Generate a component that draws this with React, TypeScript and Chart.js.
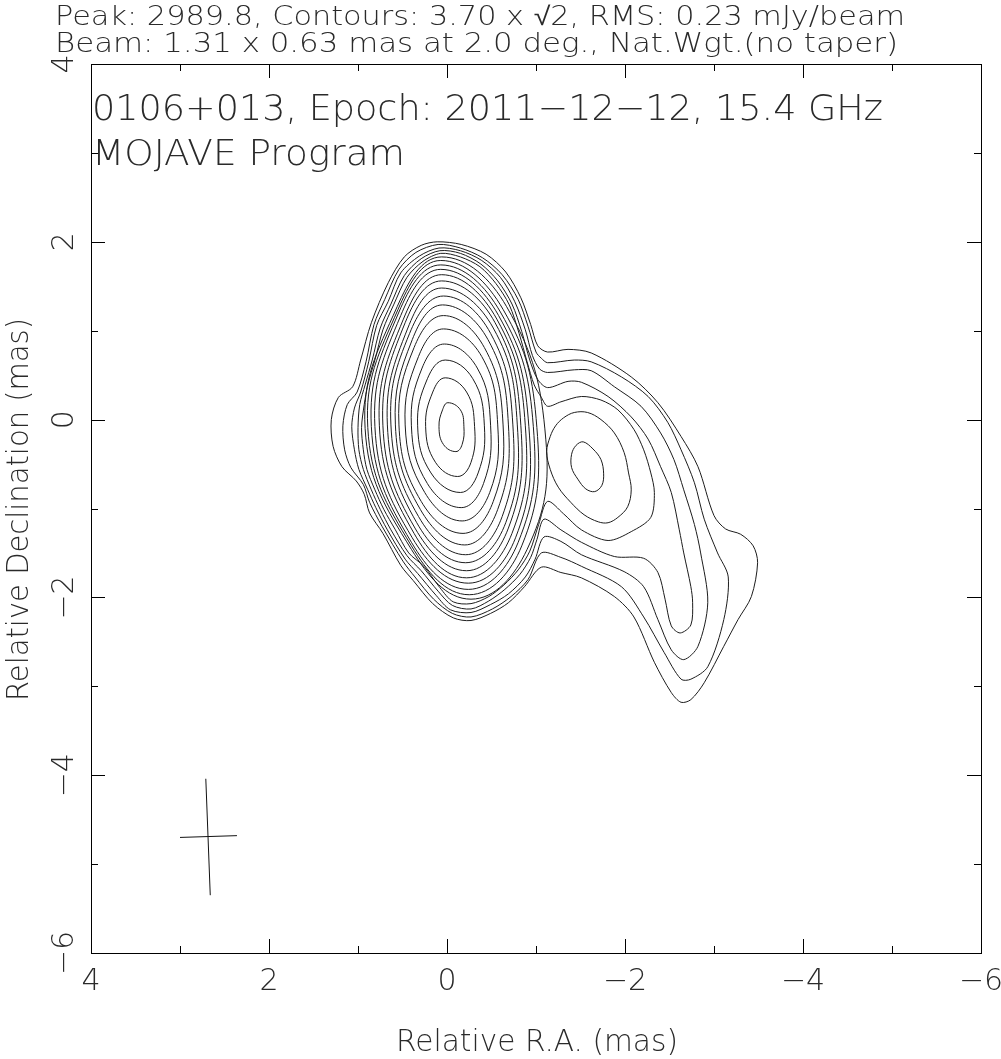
import React, { useEffect, useRef } from "react";
import { Chart, registerables } from "chart.js";

Chart.register(...registerables);

type Pt = [number, number];

// ---------- texts ----------
const headerLine1 = "Peak: 2989.8, Contours: 3.70 x √2, RMS: 0.23 mJy/beam";
const headerLine2 = "Beam: 1.31 x 0.63 mas at 2.0 deg., Nat.Wgt.(no taper)";
const titleLine1 = "0106+013, Epoch: 2011−12−12, 15.4 GHz";
const titleLine2 = "MOJAVE Program";
const xAxisTitle = "Relative R.A. (mas)";
const yAxisTitle = "Relative Declination (mas)";

// ---------- axes ----------
const axisMin = -6;
const axisMax = 4;
const majorTicks = [4, 2, 0, -2, -4, -6];
const minorTicks = [3, 1, -1, -3, -5];

// ---------- contours (RA mas, Dec mas), lowest level first ----------
const contour01: Pt[] = [[0.11,2.00],[-0.16,1.97],[-0.44,1.86],[-0.66,1.66],[-0.83,1.37],[-0.94,1.07],[-1.02,0.83],[-1.13,0.76],[-1.36,0.79],[-1.62,0.75],[-2.07,0.48],[-2.37,0.19],[-2.63,-0.19],[-2.82,-0.53],[-3.00,-1.08],[-3.13,-1.23],[-3.30,-1.29],[-3.44,-1.42],[-3.49,-1.61],[-3.42,-1.99],[-3.27,-2.25],[-3.11,-2.55],[-2.89,-2.96],[-2.74,-3.15],[-2.63,-3.18],[-2.52,-3.07],[-2.33,-2.73],[-2.10,-2.22],[-1.88,-1.99],[-1.51,-1.78],[-1.28,-1.72],[-1.06,-1.66],[-0.87,-1.88],[-0.69,-2.06],[-0.49,-2.18],[-0.27,-2.26],[-0.07,-2.23],[0.16,-2.07],[0.38,-1.81],[0.52,-1.64],[0.72,-1.28],[0.87,-1.05],[0.93,-0.84],[1.02,-0.69],[1.18,-0.53],[1.28,-0.30],[1.30,0.00],[1.22,0.25],[1.06,0.37],[0.97,0.67],[0.85,1.09],[0.66,1.54],[0.48,1.83],[0.29,1.96]];
const contour02: Pt[] = [[0.10,1.97],[-0.15,1.93],[-0.40,1.82],[-0.62,1.63],[-0.80,1.35],[-0.91,1.05],[-1.00,0.76],[-1.06,0.69],[-1.13,0.64],[-1.43,0.67],[-1.62,0.65],[-1.96,0.48],[-2.26,0.26],[-2.48,-0.03],[-2.63,-0.34],[-2.78,-0.71],[-2.89,-1.12],[-3.04,-1.50],[-3.16,-1.77],[-3.11,-2.25],[-2.93,-2.78],[-2.74,-2.92],[-2.63,-2.92],[-2.44,-2.62],[-2.21,-2.22],[-1.96,-1.88],[-1.51,-1.65],[-1.28,-1.55],[-1.06,-1.50],[-0.91,-1.80],[-0.72,-1.99],[-0.51,-2.13],[-0.27,-2.22],[-0.06,-2.18],[0.15,-2.02],[0.36,-1.77],[0.49,-1.60],[0.73,-1.20],[0.87,-0.93],[0.94,-0.73],[1.08,-0.54],[1.15,-0.34],[1.17,-0.07],[1.12,0.17],[1.01,0.31],[0.91,0.65],[0.82,1.07],[0.70,1.35],[0.54,1.69],[0.35,1.88]];
const contour03: Pt[] = [[0.09,1.93],[-0.15,1.90],[-0.39,1.79],[-0.60,1.60],[-0.76,1.33],[-0.88,1.01],[-0.96,0.72],[-1.04,0.57],[-1.13,0.53],[-1.43,0.56],[-1.62,0.55],[-1.88,0.37],[-2.18,0.15],[-2.40,-0.15],[-2.55,-0.45],[-2.66,-0.79],[-2.78,-1.18],[-2.85,-1.50],[-2.93,-2.06],[-2.82,-2.55],[-2.66,-2.70],[-2.52,-2.59],[-2.37,-2.25],[-2.21,-1.88],[-1.99,-1.71],[-1.51,-1.52],[-1.28,-1.37],[-1.09,-1.32],[-0.99,-1.57],[-0.88,-1.77],[-0.69,-1.96],[-0.49,-2.08],[-0.27,-2.17],[-0.04,-2.14],[0.12,-1.98],[0.33,-1.73],[0.47,-1.57],[0.67,-1.24],[0.80,-0.99],[0.89,-0.79],[0.99,-0.56],[1.04,-0.34],[1.07,-0.08],[1.04,0.13],[0.97,0.31],[0.88,0.65],[0.79,1.06],[0.66,1.33],[0.52,1.65],[0.31,1.84]];
const contour04: Pt[] = [[0.08,1.90],[-0.15,1.87],[-0.38,1.75],[-0.57,1.56],[-0.73,1.30],[-0.84,0.99],[-0.93,0.67],[-1.02,0.45],[-1.13,0.36],[-1.36,0.43],[-1.51,0.42],[-1.81,0.26],[-2.07,0.03],[-2.26,-0.22],[-2.40,-0.53],[-2.52,-0.82],[-2.61,-1.24],[-2.66,-1.50],[-2.74,-1.88],[-2.76,-2.06],[-2.74,-2.31],[-2.62,-2.40],[-2.52,-2.32],[-2.45,-2.02],[-2.37,-1.72],[-2.21,-1.56],[-1.88,-1.54],[-1.51,-1.38],[-1.28,-1.24],[-1.09,-1.12],[-1.01,-1.35],[-0.94,-1.55],[-0.82,-1.74],[-0.65,-1.91],[-0.47,-2.04],[-0.27,-2.13],[-0.06,-2.09],[0.10,-1.93],[0.29,-1.70],[0.45,-1.53],[0.63,-1.24],[0.75,-1.01],[0.85,-0.79],[0.94,-0.56],[0.99,-0.34],[1.00,-0.09],[0.98,0.17],[0.92,0.39],[0.84,0.67],[0.75,1.03],[0.63,1.30],[0.48,1.62],[0.29,1.81]];
const contour05: Pt[] = [[0.07,1.87],[-0.15,1.83],[-0.37,1.72],[-0.55,1.53],[-0.70,1.29],[-0.81,0.97],[-0.90,0.65],[-0.98,0.39],[-1.06,0.25],[-1.13,0.15],[-1.28,0.20],[-1.51,0.26],[-1.73,0.22],[-1.92,0.11],[-2.10,-0.11],[-2.21,-0.34],[-2.29,-0.60],[-2.33,-0.82],[-2.29,-1.10],[-2.07,-1.26],[-1.81,-1.36],[-1.51,-1.24],[-1.31,-1.06],[-1.13,-0.92],[-1.03,-1.18],[-0.93,-1.48],[-0.80,-1.69],[-0.64,-1.86],[-0.47,-1.99],[-0.27,-2.07],[-0.07,-2.05],[0.08,-1.89],[0.26,-1.65],[0.43,-1.50],[0.58,-1.24],[0.71,-1.01],[0.81,-0.79],[0.90,-0.56],[0.94,-0.34],[0.96,-0.09],[0.93,0.17],[0.89,0.39],[0.81,0.67],[0.72,1.01],[0.60,1.29],[0.45,1.60],[0.27,1.78]];
const contour06: Pt[] = [[0.06,1.83],[-0.67,1.27],[-1.11,-0.22],[-0.90,-1.46],[-0.27,-2.02],[0.40,-1.46],[0.92,-0.10],[0.56,1.27]];
const contour07: Pt[] = [[0.07,1.79],[-0.63,1.24],[-1.01,-0.09],[-0.84,-1.42],[-0.25,-1.97],[0.40,-1.42],[0.89,-0.09],[0.55,1.24]];
const contour08: Pt[] = [[0.07,1.74],[-0.60,1.21],[-0.97,-0.08],[-0.80,-1.38],[-0.24,-1.91],[0.40,-1.38],[0.85,-0.08],[0.54,1.21]];
const contour09: Pt[] = [[0.07,1.69],[-0.58,1.17],[-0.92,-0.08],[-0.77,-1.33],[-0.24,-1.84],[0.39,-1.33],[0.81,-0.08],[0.52,1.17]];
const contour10: Pt[] = [[0.06,1.63],[-0.56,1.13],[-0.88,-0.07],[-0.73,-1.28],[-0.22,-1.78],[0.37,-1.28],[0.76,-0.07],[0.49,1.13]];
const contour11: Pt[] = [[0.06,1.56],[-0.54,1.09],[-0.83,-0.07],[-0.69,-1.22],[-0.22,-1.70],[0.36,-1.22],[0.72,-0.07],[0.47,1.09]];
const contour12: Pt[] = [[0.06,1.48],[-0.52,1.03],[-0.79,-0.06],[-0.66,-1.16],[-0.21,-1.61],[0.34,-1.16],[0.67,-0.06],[0.44,1.03]];
const contour13: Pt[] = [[0.04,1.39],[-0.49,0.97],[-0.74,-0.06],[-0.62,-1.09],[-0.21,-1.52],[0.32,-1.09],[0.63,-0.06],[0.42,0.97]];
const contour14: Pt[] = [[0.05,1.29],[-0.46,0.90],[-0.69,-0.06],[-0.57,-1.01],[-0.20,-1.41],[0.30,-1.01],[0.58,-0.06],[0.39,0.90]];
const contour15: Pt[] = [[0.04,1.17],[-0.42,0.81],[-0.63,-0.06],[-0.52,-0.92],[-0.18,-1.28],[0.29,-0.92],[0.54,-0.06],[0.37,0.81]];
const contour16: Pt[] = [[0.04,1.02],[-0.39,0.71],[-0.57,-0.06],[-0.48,-0.82],[-0.17,-1.14],[0.25,-0.82],[0.47,-0.06],[0.32,0.71]];
const contour17: Pt[] = [[0.03,0.85],[-0.34,0.58],[-0.49,-0.07],[-0.41,-0.72],[-0.16,-0.99],[0.22,-0.72],[0.40,-0.07],[0.28,0.58]];
const contour18: Pt[] = [[0.02,0.67],[-0.29,0.46],[-0.42,-0.07],[-0.35,-0.60],[-0.15,-0.82],[0.18,-0.60],[0.33,-0.07],[0.22,0.46]];
const contour19: Pt[] = [[0.02,0.47],[-0.22,0.31],[-0.31,-0.08],[-0.27,-0.48],[-0.12,-0.64],[0.13,-0.48],[0.24,-0.08],[0.16,0.31]];
const contour20: Pt[] = [[-0.01,0.19],[-0.15,0.11],[-0.19,-0.08],[-0.17,-0.28],[-0.10,-0.36],[0.04,-0.28],[0.09,-0.08],[0.05,0.11]];
// jet knot at (-1.6, -0.5)
const knot06: Pt[] = [[-1.12,-0.36],[-1.16,-0.19],[-1.22,-0.07],[-1.31,0.02],[-1.43,0.08],[-1.58,0.08],[-1.73,0.00],[-1.88,-0.15],[-1.99,-0.37],[-2.04,-0.60],[-2.07,-0.79],[-2.03,-0.98],[-1.92,-1.10],[-1.81,-1.16],[-1.70,-1.15],[-1.54,-1.07],[-1.39,-0.93],[-1.25,-0.76],[-1.16,-0.56]];
const knot07: Pt[] = [[-1.53,-0.25],[-1.64,-0.33],[-1.73,-0.45],[-1.76,-0.61],[-1.74,-0.74],[-1.66,-0.81],[-1.56,-0.78],[-1.47,-0.67],[-1.40,-0.54],[-1.40,-0.39],[-1.45,-0.29]];

// restoring beam cross (major / minor axis)
const beamMajor: Pt[] = [[2.71,-4.04],[2.66,-5.35]];
const beamMinor: Pt[] = [[3.00,-4.70],[2.36,-4.68]];

const jetContours = [contour01, contour02, contour03, contour04, contour05];
const coreContours = [contour06, contour07, contour08, contour09, contour10, contour11, contour12, contour13, contour14, contour15, contour16, contour17, contour18, contour19, contour20];
const knotContours = [knot06, knot07];

const LINE_COLOR = "#1c1c1c";
const TEXT_COLOR = "#2a2a2a";
const FONT_FAMILY = '"DejaVu Sans", "Liberation Sans", sans-serif';
const FONT_WEIGHT = "200";

function closedDataset(pts: Pt[], tension: number) {
  const n = pts.length;
  const loop = [pts[n - 1], ...pts, pts[0], pts[1]];
  const last = loop.length - 1;
  return {
    data: loop.map(([x, y]) => ({ x, y })),
    showLine: true,
    borderColor: LINE_COLOR,
    borderWidth: 1,
    pointRadius: 0,
    tension,
    segment: {
      borderColor: (ctx: any) =>
        ctx.p0DataIndex === 0 || ctx.p1DataIndex === last ? "rgba(0,0,0,0)" : undefined,
    },
  };
}

function openDataset(pts: Pt[]) {
  return {
    data: pts.map(([x, y]) => ({ x, y })),
    showLine: true,
    borderColor: "#111",
    borderWidth: 1,
    pointRadius: 0,
    tension: 0,
  };
}

function drawFitted(ctx: CanvasRenderingContext2D, text: string, x: number, y: number, width: number, size: number, rot = 0) {
  ctx.save();
  ctx.font = `${FONT_WEIGHT} ${size}px ${FONT_FAMILY}`;
  ctx.fillStyle = TEXT_COLOR;
  ctx.textAlign = "left";
  ctx.textBaseline = "alphabetic";
  const w = ctx.measureText(text).width;
  ctx.translate(x, y);
  if (rot) ctx.rotate(rot);
  ctx.scale(width / w, 1);
  ctx.fillText(text, 0, 0);
  ctx.restore();
}

const fmt = (v: number) => (v < 0 ? "−" + Math.abs(v) : String(v));

const framePlugin = {
  id: "mapFrame",
  afterDraw(chart: any) {
    const { ctx, chartArea: a, scales } = chart;
    const xs = scales.x;
    const ys = scales.y;
    ctx.save();
    ctx.strokeStyle = "#000";
    ctx.lineWidth = 1;
    ctx.strokeRect(Math.round(a.left) + 0.5, Math.round(a.top) + 0.5, Math.round(a.right - a.left), Math.round(a.bottom - a.top));
    ctx.beginPath();
    const all = [...majorTicks.map((v) => [v, 14]), ...minorTicks.map((v) => [v, 7])];
    for (const [v, len] of all) {
      const px = Math.round(xs.getPixelForValue(v)) + 0.5;
      ctx.moveTo(px, a.bottom);
      ctx.lineTo(px, a.bottom - len);
      ctx.moveTo(px, a.top);
      ctx.lineTo(px, a.top + len);
      const py = Math.round(ys.getPixelForValue(v)) + 0.5;
      ctx.moveTo(a.left, py);
      ctx.lineTo(a.left + len, py);
      ctx.moveTo(a.right, py);
      ctx.lineTo(a.right - len, py);
    }
    ctx.stroke();

    ctx.fillStyle = TEXT_COLOR;
    ctx.font = `${FONT_WEIGHT} 30px ${FONT_FAMILY}`;
    ctx.textAlign = "center";
    ctx.textBaseline = "alphabetic";
    for (const v of majorTicks) {
      const px = xs.getPixelForValue(v);
      ctx.fillText(fmt(v), px, a.bottom + 37);
      const py = ys.getPixelForValue(v);
      ctx.save();
      ctx.translate(a.left - 18, py);
      ctx.rotate(-Math.PI / 2);
      ctx.fillText(fmt(v), 0, 0);
      ctx.restore();
    }
    ctx.restore();

    drawFitted(ctx, headerLine1, 55, 25, 850, 26);
    drawFitted(ctx, headerLine2, 55, 52, 843, 26);
    drawFitted(ctx, titleLine1, 92, 120, 791, 36);
    drawFitted(ctx, titleLine2, 92, 165, 313, 36);
    drawFitted(ctx, xAxisTitle, 396, 1051, 282, 30);
    drawFitted(ctx, yAxisTitle, 28, 701, 383, 30, -Math.PI / 2);
  },
};

export default function App() {
  const ref = useRef<HTMLCanvasElement | null>(null);
  useEffect(() => {
    if (!ref.current) return;
    const datasets: any[] = [
      ...jetContours.map((c) => closedDataset(c, 0.3)),
      ...coreContours.map((c) => closedDataset(c, 0.42)),
      ...knotContours.map((c) => closedDataset(c, 0.35)),
      openDataset(beamMajor),
      openDataset(beamMinor),
    ];
    const chart = new Chart(ref.current, {
      type: "scatter",
      data: { datasets },
      options: {
        animation: false,
        responsive: false,
        devicePixelRatio: 1,
        events: [],
        layout: { padding: { left: 91, right: 20, top: 64, bottom: 106 } },
        plugins: { legend: { display: false }, tooltip: { enabled: false }, title: { display: false } },
        scales: {
          x: { type: "linear", min: axisMin, max: axisMax, reverse: true, display: false },
          y: { type: "linear", min: axisMin, max: axisMax, display: false },
        },
      },
      plugins: [framePlugin],
    } as any);
    return () => chart.destroy();
  }, []);
  return (
    <div style={{ position: "absolute", left: 0, top: 0, width: 1001, height: 1059, background: "#fff" }}>
      <canvas ref={ref} width={1001} height={1059} style={{ display: "block", width: 1001, height: 1059 }} />
    </div>
  );
}
